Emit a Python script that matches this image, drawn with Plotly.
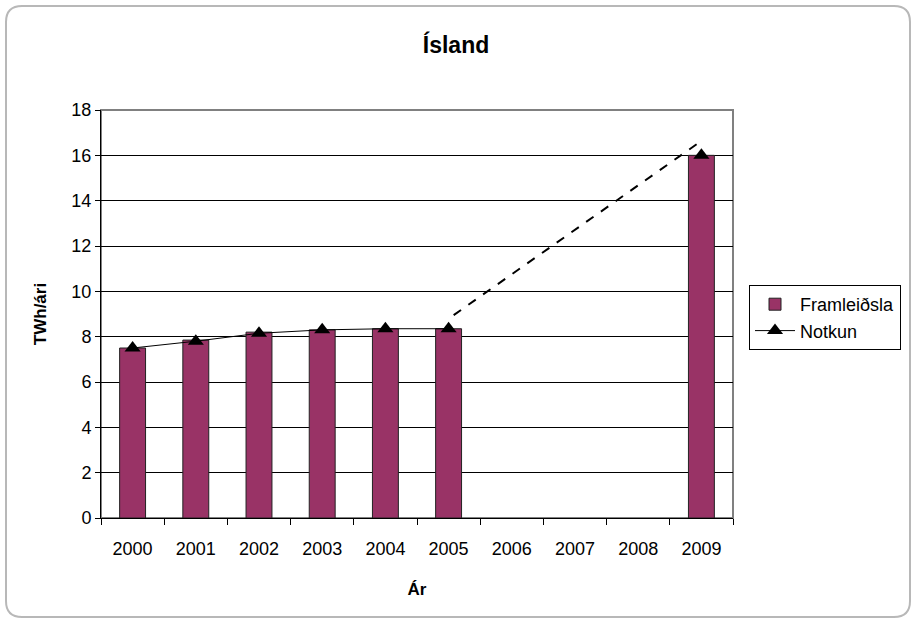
import plotly.graph_objects as go

years = ["2000", "2001", "2002", "2003", "2004", "2005", "2006", "2007", "2008", "2009"]
framleidsla = [7.5, 7.85, 8.2, 8.3, 8.35, 8.35, None, None, None, 16.0]
notkun = [7.5, 7.8, 8.15, 8.3, 8.35, 8.35, None, None, None, 16.0]
trend_x = [5.08, 8.93]
trend_y = [8.95, 16.5]

W, H = 912, 619
L, R, T, B = 101, 179, 110, 101
pw, ph = W - L - R, H - T - B

xpos = list(range(len(years)))

fig = go.Figure()
fig.add_trace(go.Bar(
    x=xpos, y=framleidsla, name="Framleiðsla", width=0.41,
    marker=dict(color="#993366", line=dict(color="#222222", width=1)),
))
fig.add_trace(go.Scatter(
    x=xpos, y=notkun, name="Notkun", mode="lines+markers",
    line=dict(color="black", width=1), connectgaps=False,
    marker=dict(symbol="triangle-up", size=14, color="black"),
))
fig.add_trace(go.Scatter(
    x=trend_x, y=trend_y, mode="lines", showlegend=False,
    line=dict(color="black", width=2, dash="dash"), hoverinfo="skip",
))

def P(px, py):
    a, b = (px - L) / pw, (H - B - py) / ph
    return f"{a:.5f},{b:.5f}"

# rounded outer chart border
x0, y0, x1, y1, r = 6, 6, 910, 617, 16
path = (f"M {P(x0 + r, y0)} L {P(x1 - r, y0)} Q {P(x1, y0)} {P(x1, y0 + r)} "
        f"L {P(x1, y1 - r)} Q {P(x1, y1)} {P(x1 - r, y1)} "
        f"L {P(x0 + r, y1)} Q {P(x0, y1)} {P(x0, y1 - r)} "
        f"L {P(x0, y0 + r)} Q {P(x0, y0)} {P(x0 + r, y0)} Z")
fig.add_shape(type="path", path=path, xref="paper", yref="paper",
              line=dict(color="#b8b8b8", width=2), layer="below")
# plot area border (gray)
fig.add_shape(type="rect", x0=0, y0=0, x1=1, y1=1, xref="paper", yref="paper",
              line=dict(color="#808080", width=2), layer="below")

font = "Liberation Sans, Arial, sans-serif"
fig.update_layout(
    width=W, height=H,
    margin=dict(l=L, r=R, t=T, b=B, autoexpand=False),
    paper_bgcolor="white", plot_bgcolor="white",
    font=dict(family=font, size=18, color="black"),
    title=dict(text="<b>Ísland</b>", x=0.5, xref="container", xanchor="center",
               y=1 - 45 / H, yref="container", yanchor="middle", font=dict(size=23)),
    showlegend=True,
    legend=dict(x=(749 - L) / pw, xanchor="left", y=(H - B - 285) / ph, yanchor="top",
                bordercolor="black", borderwidth=1, bgcolor="white",
                font=dict(size=18), itemwidth=40, tracegroupgap=0),
    bargap=0.59,
)
fig.update_xaxes(
    range=[-0.5, 9.5], tickmode="array", tickvals=xpos, ticktext=years,
    ticks="", showgrid=False, zeroline=False,
    showline=True, linecolor="black", linewidth=1,
    minor=dict(tickmode="array", tickvals=[i - 0.5 for i in range(len(years) + 1)],
               ticks="outside", ticklen=6, tickcolor="black", showgrid=False),
    tickfont=dict(size=18), ticklabelstandoff=14,
    title=dict(text="<b>Ár</b>", font=dict(size=17), standoff=25),
    fixedrange=True,
)
fig.update_yaxes(
    range=[0, 18], dtick=2, tick0=0, ticks="outside", ticklen=5, tickcolor="black",
    showgrid=True, gridcolor="black", gridwidth=1, zeroline=False,
    showline=True, linecolor="black", linewidth=1,
    tickfont=dict(size=18), ticklabelstandoff=0,
    title=dict(text="<b>TWh/ári</b>", font=dict(size=17), standoff=20),
    fixedrange=True,
)

fig.write_html("out.html")
